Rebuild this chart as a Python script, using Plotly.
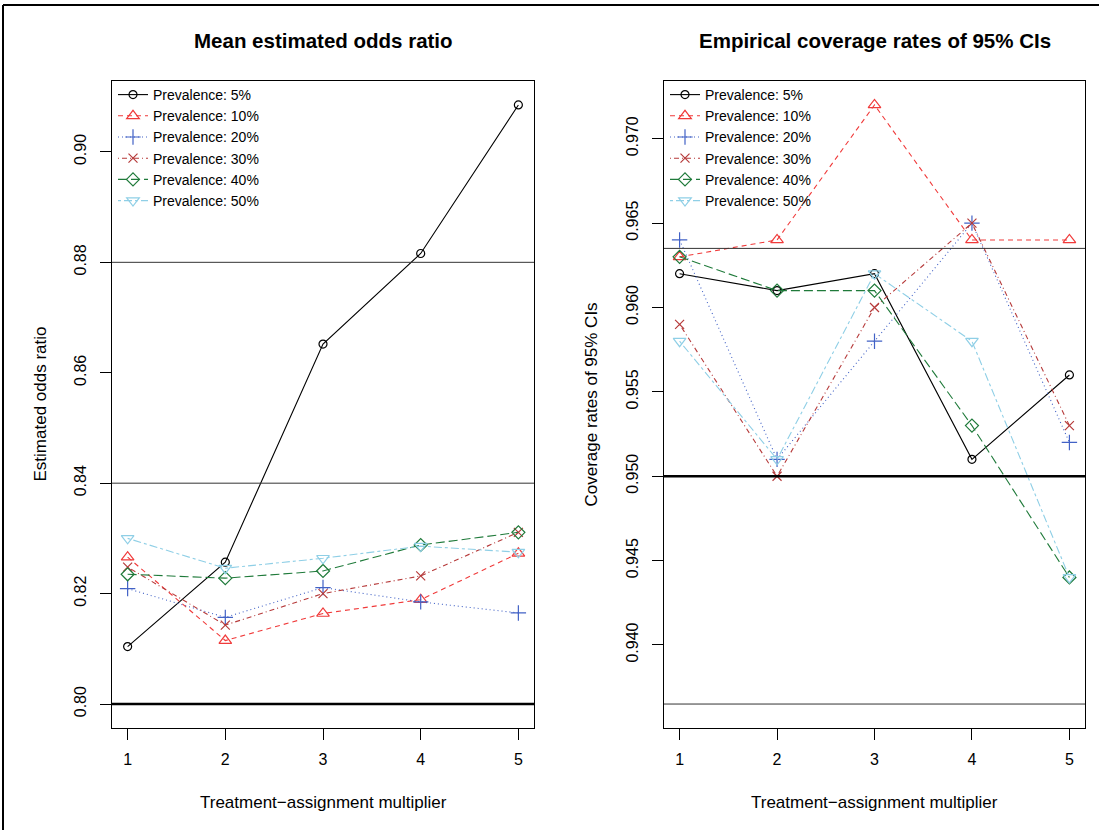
import plotly.graph_objects as go

# ---------------- data ----------------
multipliers = [1, 2, 3, 4, 5]
prevalence_labels = ["Prevalence: 5%", "Prevalence: 10%", "Prevalence: 20%",
                     "Prevalence: 30%", "Prevalence: 40%", "Prevalence: 50%"]

# Mean estimated odds ratio
or_p5 = [0.8104, 0.8257, 0.8652, 0.8816, 0.9085]
or_p10 = [0.8266, 0.8115, 0.8164, 0.8189, 0.8273]
or_p20 = [0.8209, 0.8157, 0.8211, 0.8185, 0.8165]
or_p30 = [0.8248, 0.8143, 0.8200, 0.8232, 0.8311]
or_p40 = [0.8235, 0.8228, 0.8241, 0.8288, 0.8311]
or_p50 = [0.8300, 0.8246, 0.8264, 0.8286, 0.8275]

# Empirical coverage of 95% CIs
cov_p5 = [0.962, 0.961, 0.962, 0.951, 0.956]
cov_p10 = [0.963, 0.964, 0.972, 0.964, 0.964]
cov_p20 = [0.964, 0.951, 0.958, 0.965, 0.952]
cov_p30 = [0.959, 0.950, 0.960, 0.965, 0.953]
cov_p40 = [0.963, 0.961, 0.961, 0.953, 0.944]
cov_p50 = [0.958, 0.951, 0.962, 0.958, 0.944]

# reference lines
or_true = 0.80
or_refs = [0.84, 0.88]
cov_nominal = 0.95
cov_refs = [0.9365, 0.9635]

or_ticks = [0.80, 0.82, 0.84, 0.86, 0.88, 0.90]
cov_ticks = [0.940, 0.945, 0.950, 0.955, 0.960, 0.965, 0.970]

# ---------------- styles ----------------
colors = ["#000000", "#F03A3A", "#4262C6", "#B63A3A", "#1F7A3A", "#8FCFE6"]
dashes = ["solid", "5px,4px", "1px,3px", "1px,3px,5px,3px", "9px,4px", "3px,3px,8px,3px"]
symbols = ["circle-open", "triangle-up-open", "cross-thin-open", "x-thin-open",
           "diamond-open", "triangle-down-open"]
sizes = [8, 11, 11, 9, 10, 11]

FONT = "Liberation Sans, Arial, Helvetica, sans-serif"
W, H = 1099, 830

fig = go.Figure()

left_series = [or_p5, or_p10, or_p20, or_p30, or_p40, or_p50]
right_series = [cov_p5, cov_p10, cov_p20, cov_p30, cov_p40, cov_p50]

for i, (lab, ys) in enumerate(zip(prevalence_labels, left_series)):
    fig.add_trace(go.Scatter(
        x=multipliers, y=ys, mode="lines+markers", name=lab,
        xaxis="x", yaxis="y", legend="legend",
        line=dict(color=colors[i], width=1.1, dash=dashes[i]),
        marker=dict(symbol=symbols[i], size=sizes[i], color=colors[i],
                    line=dict(color=colors[i], width=1.2)),
    ))

for i, (lab, ys) in enumerate(zip(prevalence_labels, right_series)):
    fig.add_trace(go.Scatter(
        x=multipliers, y=ys, mode="lines+markers", name=lab,
        xaxis="x2", yaxis="y2", legend="legend2",
        line=dict(color=colors[i], width=1.1, dash=dashes[i]),
        marker=dict(symbol=symbols[i], size=sizes[i], color=colors[i],
                    line=dict(color=colors[i], width=1.2)),
    ))

# reference lines
shapes = []
shapes.append(dict(type="line", xref="x domain", yref="y", x0=0, x1=1,
                   y0=or_true, y1=or_true, line=dict(color="black", width=2.5)))
for v in or_refs:
    shapes.append(dict(type="line", xref="x domain", yref="y", x0=0, x1=1,
                       y0=v, y1=v, line=dict(color="#333333", width=1)))
shapes.append(dict(type="line", xref="x2 domain", yref="y2", x0=0, x1=1,
                   y0=cov_nominal, y1=cov_nominal, line=dict(color="black", width=2.5)))
for v in cov_refs:
    shapes.append(dict(type="line", xref="x2 domain", yref="y2", x0=0, x1=1,
                       y0=v, y1=v, line=dict(color="#333333", width=1)))
# outer frame (top and left edges of the device)
shapes.append(dict(type="line", xref="paper", yref="paper", x0=3 / W, x1=1,
                   y0=1 - 5 / H, y1=1 - 5 / H, line=dict(color="black", width=2)))
shapes.append(dict(type="line", xref="paper", yref="paper", x0=3 / W, x1=3 / W,
                   y0=0, y1=1 - 5 / H, line=dict(color="black", width=2)))

xdom1 = [112 / W, 534 / W]
xdom2 = [664 / W, 1085 / W]
ydom = [1 - 728 / H, 1 - 81 / H]

axis_common = dict(showgrid=False, zeroline=False, showline=True, mirror=True,
                   linecolor="black", linewidth=1, ticks="outside", ticklen=11,
                   tickcolor="black", tickwidth=1,
                   tickfont=dict(family=FONT, size=16, color="black"))

ann_common = dict(xref="paper", yref="paper", showarrow=False,
                  xanchor="center", yanchor="middle")
annotations = [
    dict(text="<b>Mean estimated odds ratio</b>", x=sum(xdom1) / 2, y=1 - 40 / H,
         font=dict(family=FONT, size=20.5, color="black"), **ann_common),
    dict(text="<b>Empirical coverage rates of 95% CIs</b>", x=sum(xdom2) / 2, y=1 - 40 / H,
         font=dict(family=FONT, size=20.5, color="black"), **ann_common),
    dict(text="Treatment\u2212assignment multiplier", x=sum(xdom1) / 2, y=1 - 802 / H,
         font=dict(family=FONT, size=17, color="black"), **ann_common),
    dict(text="Treatment\u2212assignment multiplier", x=sum(xdom2) / 2, y=1 - 802 / H,
         font=dict(family=FONT, size=17, color="black"), **ann_common),
    dict(text="Estimated odds ratio", x=40 / W, y=sum(ydom) / 2, textangle=-90,
         font=dict(family=FONT, size=17, color="black"), **ann_common),
    dict(text="Coverage rates of 95% CIs", x=591 / W, y=sum(ydom) / 2, textangle=-90,
         font=dict(family=FONT, size=17, color="black"), **ann_common),
]

legend_common = dict(bgcolor="rgba(0,0,0,0)", borderwidth=0,
                     font=dict(family=FONT, size=14, color="black"),
                     xanchor="left", yanchor="top", tracegroupgap=0,
                     itemwidth=30)

fig.update_layout(
    width=W, height=H,
    margin=dict(l=0, r=0, t=0, b=0),
    paper_bgcolor="white", plot_bgcolor="white",
    showlegend=True,
    xaxis=dict(domain=xdom1, range=[0.84, 5.16], tickvals=multipliers,
               anchor="y", ticklabelstandoff=6, **axis_common),
    yaxis=dict(domain=ydom, range=[0.79566, 0.91284], tickvals=or_ticks,
               tickformat=".2f", tickangle=-90, anchor="x",
               ticklabelstandoff=8, **axis_common),
    xaxis2=dict(domain=xdom2, range=[0.84, 5.16], tickvals=multipliers,
                anchor="y2", ticklabelstandoff=6, **axis_common),
    yaxis2=dict(domain=ydom, range=[0.93508, 0.97342], tickvals=cov_ticks,
                tickformat=".3f", tickangle=-90, anchor="x2",
                ticklabelstandoff=8, **axis_common),
    legend=dict(x=113 / W, y=1 - 79 / H, **legend_common),
    legend2=dict(x=665 / W, y=1 - 79 / H, **legend_common),
    shapes=shapes,
    annotations=annotations,
)

fig.write_html(
    "out.html",
    config={"displayModeBar": False},
    post_script="document.body.style.margin='0';document.body.style.overflow='hidden';",
)
